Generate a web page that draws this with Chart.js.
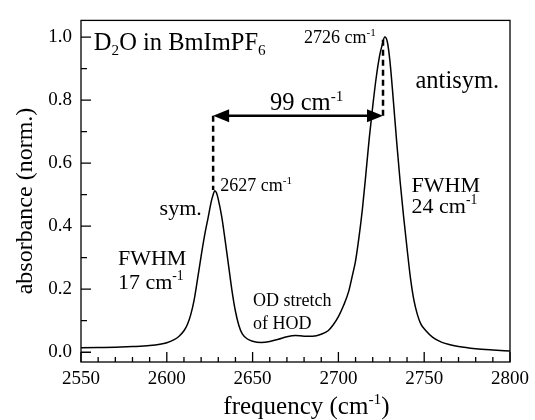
<!DOCTYPE html>
<html><head><meta charset="utf-8">
<script src="https://cdn.jsdelivr.net/npm/chart.js@4/dist/chart.umd.min.js"></script>
<style>html,body{margin:0;padding:0;background:#fff;}</style>
</head><body>
<canvas id="c" width="535" height="420"></canvas>
<script>
// ---- data ----
const frequency = [2550,2560,2570,2580,2590,2596,2600,2604,2607,2610,2612,2614,2616,2618,2620,2622,2624,2626,2627,2628,2629,2630,2632,2634,2636,2638,2640,2642,2644,2647,2650,2655,2660,2665,2670,2675,2680,2685,2690,2694,2697,2700,2703,2706,2708,2710,2712,2714,2716,2718,2720,2722,2724,2725.5,2727,2728.5,2730,2732,2734,2736,2738,2740,2742,2744,2746,2748,2751,2755,2760,2765,2770,2780,2790,2800];
const absorbance = [0.014,0.015,0.016,0.018,0.021,0.025,0.030,0.039,0.050,0.068,0.088,0.12,0.168,0.235,0.305,0.37,0.425,0.48,0.50,0.512,0.505,0.485,0.43,0.355,0.275,0.195,0.13,0.085,0.058,0.042,0.035,0.031,0.034,0.041,0.049,0.053,0.051,0.051,0.057,0.068,0.087,0.113,0.148,0.193,0.24,0.29,0.365,0.455,0.565,0.68,0.78,0.87,0.94,0.975,1.0,0.985,0.925,0.80,0.665,0.54,0.43,0.33,0.235,0.165,0.12,0.09,0.068,0.047,0.032,0.024,0.018,0.011,0.007,0.004];
const xTicks = [2550,2600,2650,2700,2750,2800];
const xMinorTicks = [2560,2570,2580,2590,2610,2620,2630,2640,2660,2670,2680,2690,2710,2720,2730,2740,2760,2770,2780,2790];
const yTicks = [0.0,0.2,0.4,0.6,0.8,1.0];
const yMinorTicks = [0.1,0.3,0.5,0.7,0.9];
const xTitle = 'frequency (cm^{-1})';
const yTitle = 'absorbance (norm.)';
const peakSym = 2627, peakAnti = 2726, arrowLevel = 0.75, peakSymTop = 0.515, peakAntiTop = 0.995;
const annotations = [
  {text:'D_{2}O in BmImPF_{6}', x:2557.5, y:0.96, size:24.5},
  {text:'2726 cm^{-1}', x:2680.0, y:0.981, size:18},
  {text:'antisym.', x:2744.9, y:0.8385, size:24.5},
  {text:'99 cm^{-1}', x:2660.2, y:0.767, size:24.5},
  {text:'2627 cm^{-1}', x:2631.2, y:0.512, size:18},
  {text:'sym.', x:2595.8, y:0.435, size:22},
  {text:'FWHM', x:2571.5, y:0.276, size:22},
  {text:'17 cm^{-1}', x:2571.5, y:0.202, size:22},
  {text:'FWHM', x:2742.6, y:0.509, size:22},
  {text:'24 cm^{-1}', x:2742.6, y:0.441, size:22},
  {text:'OD stretch', x:2650.3, y:0.146, size:18},
  {text:'of HOD', x:2650.3, y:0.0745, size:18}
];
const FONT = "'Liberation Serif','Times New Roman',serif";

function parseRich(str){
  const out=[]; const re=/(\^\{[^}]*\}|_\{[^}]*\})/g; let last=0,m;
  while((m=re.exec(str))){ if(m.index>last) out.push({t:str.slice(last,m.index),k:0});
    out.push({t:m[0].slice(2,-1),k:m[0][0]==='^'?1:-1}); last=re.lastIndex; }
  if(last<str.length) out.push({t:str.slice(last),k:0});
  return out;
}
function richWidth(ctx,parts,size){
  let w=0; for(const p of parts){ ctx.font=(p.k?size*0.62:size)+'px '+FONT; w+=ctx.measureText(p.t).width; } return w;
}
function drawRich(ctx,str,x,y,size,align){
  const parts=parseRich(str); let cx=x;
  if(align==='center') cx=x-richWidth(ctx,parts,size)/2;
  ctx.textBaseline='alphabetic'; ctx.textAlign='left';
  for(const p of parts){
    const s=p.k?size*0.62:size; ctx.font=s+'px '+FONT;
    const dy=p.k===1?-size*0.4:(p.k===-1?size*0.22:0);
    ctx.fillText(p.t,cx,y+dy); cx+=ctx.measureText(p.t).width;
  }
}

const decor = {
  id:'decor',
  afterDatasetsDraw(chart){
    const ctx=chart.ctx, a=chart.chartArea, xs=chart.scales.x, ys=chart.scales.y;
    ctx.save();
    ctx.strokeStyle='#000'; ctx.fillStyle='#000';
    ctx.lineWidth=1.3; ctx.strokeRect(a.left,a.top,a.right-a.left,a.bottom-a.top);
    ctx.beginPath();
    for(const v of xTicks){const p=xs.getPixelForValue(v); ctx.moveTo(p,a.bottom); ctx.lineTo(p,a.bottom-10);}
    for(const v of xMinorTicks){const p=xs.getPixelForValue(v); ctx.moveTo(p,a.bottom); ctx.lineTo(p,a.bottom-5);}
    for(const v of yTicks){const p=ys.getPixelForValue(v); ctx.moveTo(a.left,p); ctx.lineTo(a.left+10,p);}
    for(const v of yMinorTicks){const p=ys.getPixelForValue(v); ctx.moveTo(a.left,p); ctx.lineTo(a.left+6,p);}
    ctx.stroke();
    const xs1=xs.getPixelForValue(peakSym), xs2=xs.getPixelForValue(peakAnti), ya=ys.getPixelForValue(arrowLevel);
    ctx.lineWidth=2.5; ctx.setLineDash([6,4]);
    ctx.beginPath(); ctx.moveTo(xs1,ya); ctx.lineTo(xs1,ys.getPixelForValue(peakSymTop));
    ctx.moveTo(xs2,ya); ctx.lineTo(xs2,ys.getPixelForValue(peakAntiTop)); ctx.stroke();
    ctx.setLineDash([]);
    const hl=16, hw=6.5;
    ctx.lineWidth=2.5; ctx.beginPath(); ctx.moveTo(xs1+hl-2,ya); ctx.lineTo(xs2-hl+2,ya); ctx.stroke();
    ctx.beginPath(); ctx.moveTo(xs1,ya); ctx.lineTo(xs1+hl,ya-hw); ctx.lineTo(xs1+hl,ya+hw); ctx.closePath(); ctx.fill();
    ctx.beginPath(); ctx.moveTo(xs2,ya); ctx.lineTo(xs2-hl,ya-hw); ctx.lineTo(xs2-hl,ya+hw); ctx.closePath(); ctx.fill();
    for(const an of annotations){ drawRich(ctx,an.text,xs.getPixelForValue(an.x),ys.getPixelForValue(an.y),an.size,'left'); }
    drawRich(ctx,xTitle,(a.left+a.right)/2+11,414,25,'center');
    ctx.translate(32,201); ctx.rotate(-Math.PI/2);
    drawRich(ctx,yTitle,0,0,24,'center');
    ctx.restore();
  }
};

new Chart(document.getElementById('c'),{
  type:'line',
  data:{datasets:[{data:frequency.map((f,i)=>({x:f,y:absorbance[i]})),borderColor:'#000',borderWidth:1.5,pointRadius:0,cubicInterpolationMode:'monotone',fill:false}]},
  options:{
    responsive:false, animation:false, devicePixelRatio:1,
    layout:{padding:{top:13,right:23,left:0,bottom:0}},
    plugins:{legend:{display:false},tooltip:{enabled:false}},
    scales:{
      x:{type:'linear',min:2550,max:2800,
        afterBuildTicks(s){s.ticks=xTicks.map(v=>({value:v}));},
        afterFit(s){s.height=58;},
        grid:{display:false,drawTicks:false},border:{display:false},
        ticks:{color:'#000',padding:6,maxRotation:0,font:{family:FONT,size:19},callback:v=>String(v)}},
      y:{type:'linear',min:-0.031,max:1.0528,
        afterBuildTicks(s){s.ticks=yTicks.map(v=>({value:v}));},
        afterFit(s){s.width=81;},
        grid:{display:false,drawTicks:false},border:{display:false},
        ticks:{color:'#000',padding:9,font:{family:FONT,size:19},callback:v=>Number(v).toFixed(1)}}
    }
  },
  plugins:[decor]
});
</script>
</body></html>
